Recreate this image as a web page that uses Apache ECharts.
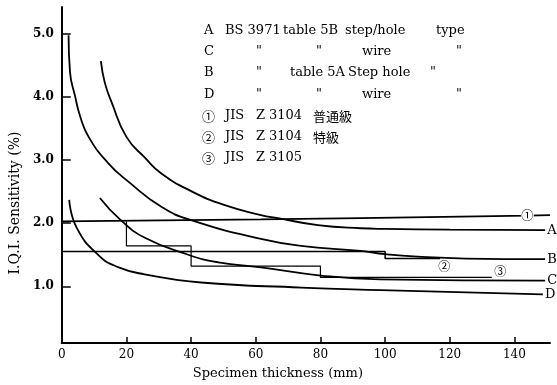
<!DOCTYPE html>
<html><head><meta charset="utf-8">
<script src="https://cdn.jsdelivr.net/npm/echarts@6/dist/echarts.min.js"></script>
<style>html,body{margin:0;padding:0;background:#fff}#c{width:557px;height:385px}</style>
</head><body><div id="c"></div>
<script>
// ---- data ----
const xTickValues = [0, 20, 40, 60, 80, 100, 120, 140];
const yTickValues = [1, 2, 3, 4, 5];
const curveA = [[12.1,4.57],[13.3,4.23],[15.4,3.92],[20,3.37],[25.7,3.04],[30.8,2.79],[40,2.51],[50.2,2.29],[61.6,2.13],[66.9,2.08],[79.2,1.97],[92.4,1.92],[100,1.91],[120,1.90],[149.5,1.89]];
const curveB = [[2.1,4.98],[2.56,4.39],[4.1,4.02],[5.6,3.71],[8.3,3.37],[14.4,2.95],[20.6,2.66],[30.8,2.26],[40,2.05],[61.6,1.75],[74,1.64],[92.4,1.56],[100,1.51],[110,1.47],[125,1.44],[149.5,1.43]];
const curveC = [[11.8,2.40],[18,2.06],[25.7,1.77],[39.1,1.50],[48.4,1.38],[61.6,1.30],[80.1,1.17],[98.6,1.11],[149.5,1.09]];
const curveD = [[2.3,2.37],[4.6,1.93],[11.4,1.49],[17.6,1.30],[25.6,1.19],[43.1,1.06],[74,0.98],[98.6,0.94],[148.8,0.87]];
const jis1 = [[0,2.03],[61.6,2.06],[92.4,2.08],[144,2.12],[151,2.13]];
const jis2 = [[0,1.55],[100,1.55],[100,1.44],[117,1.44]];
const jis3 = [[20,2.03],[20,1.64],[40,1.64],[40,1.32],[80,1.32],[80,1.14],[133,1.14]];
const curveNames = ['A', 'B', 'C', 'D'];
const circleTexts = ['①', '②', '③'];
const circleAt = [[144,2.12],[118.3,1.31],[135.6,1.23]];
const noteRows = [
  ['A', 'BS 3971', 'table 5B', 'step/hole', 'type'],
  ['C', '"', '"', 'wire', '"'],
  ['B', '"', 'table 5A', 'Step hole', '"'],
  ['D', '"', '"', 'wire', '"'],
  ['①', 'JIS', 'Z', '3104', '普通級'],
  ['②', 'JIS', 'Z', '3104', '特級'],
  ['③', 'JIS', 'Z', '3105']
];
const xName = 'Specimen thickness (mm)';
const yName = 'I.Q.I. Sensitivity (%)';

// ---- layout ----
const noteCols = [
  [204, 225, 283, 345, 436],
  [204, 256, 316, 362, 456],
  [204, 256, 290, 348, 430],
  [204, 256, 316, 362, 456],
  [202, 225, 256, 269, 313],
  [202, 225, 256, 269, 313],
  [202, 225, 256, 269]
];
const rowY = [31, 52, 73, 95, 116, 137, 158];
const serif = '"DejaVu Serif", "Liberation Serif", "Noto Sans CJK JP", serif';

const graphics = [];
noteRows.forEach((row, r) => {
  row.forEach((t, k) => {
    const cjk = /[\u2460-\u2473\u4e00-\u9fff]/.test(t);
    graphics.push({
      type: 'text', x: noteCols[r][k], y: rowY[r],
      style: { text: t, fill: '#000', verticalAlign: 'middle', align: 'left',
        font: (cjk ? '13px "Noto Sans CJK JP", sans-serif' : '13px ' + serif) }
    });
  });
});

function curve(name, data, width) {
  return {
    type: 'line', name: name, data: data, symbol: 'none', smooth: 0.5,
    lineStyle: { color: '#000', width: width }, silent: true,
    endLabel: { show: true, formatter: name, color: '#000', fontFamily: serif, fontSize: 13, distance: 2 }
  };
}
function mark(i) {
  return { coord: circleAt[i], symbol: 'circle', symbolSize: 13,
    itemStyle: { color: '#fff' },
    label: { show: true, position: 'inside', formatter: circleTexts[i], color: '#000',
      fontFamily: '"Noto Sans CJK JP", sans-serif', fontSize: 12 } };
}

const option = {
  animation: false,
  backgroundColor: '#fff',
  grid: { left: 60, right: 7, top: 7, bottom: 39 },
  xAxis: {
    type: 'value', min: 0, max: 151,
    axisLine: { onZero: false, lineStyle: { color: '#000', width: 2 } },
    axisTick: { show: true, inside: true, length: 6, customValues: xTickValues.slice(1), lineStyle: { color: '#000', width: 1.5 } },
    axisLabel: { customValues: xTickValues, color: '#000', fontFamily: serif, fontSize: 12, margin: 6 },
    splitLine: { show: false },
    name: xName, nameLocation: 'middle', nameGap: 24,
    nameTextStyle: { color: '#000', fontFamily: serif, fontSize: 13, padding: [0, 56, 0, 0] }
  },
  yAxis: {
    type: 'value', min: 0.1, max: 5.43,
    axisLine: { show: true, onZero: false, lineStyle: { color: '#000', width: 2 } },
    axisTick: { show: true, inside: true, length: 9, customValues: yTickValues, lineStyle: { color: '#000', width: 1.5 } },
    axisLabel: { customValues: yTickValues, formatter: v => v.toFixed(1), color: '#000', fontFamily: serif, fontSize: 12, fontWeight: 'bold', margin: 8 },
    splitLine: { show: false },
    name: yName, nameLocation: 'middle', nameGap: 28, nameRotate: 90,
    nameTextStyle: { color: '#000', fontFamily: serif, fontSize: 14, padding: [0, 56, 0, 0] }
  },
  series: [
    curve(curveNames[0], curveA, 1.8),
    curve(curveNames[1], curveB, 1.8),
    curve(curveNames[2], curveC, 1.8),
    curve(curveNames[3], curveD, 1.8),
    { type: 'line', name: '①', data: jis1, symbol: 'none', lineStyle: { color: '#000', width: 1.8 },
      markPoint: { silent: true, data: [mark(0)] } },
    { type: 'line', name: '②', data: jis2, symbol: 'none', lineStyle: { color: '#000', width: 1.5 },
      markPoint: { silent: true, data: [mark(1)] } },
    { type: 'line', name: '③', data: jis3, symbol: 'none', lineStyle: { color: '#000', width: 1.2 },
      markPoint: { silent: true, data: [mark(2)] } }
  ],
  graphic: graphics
};
const chart = echarts.init(document.getElementById('c'), null, { renderer: 'canvas' });
chart.setOption(option);
</script></body></html>
